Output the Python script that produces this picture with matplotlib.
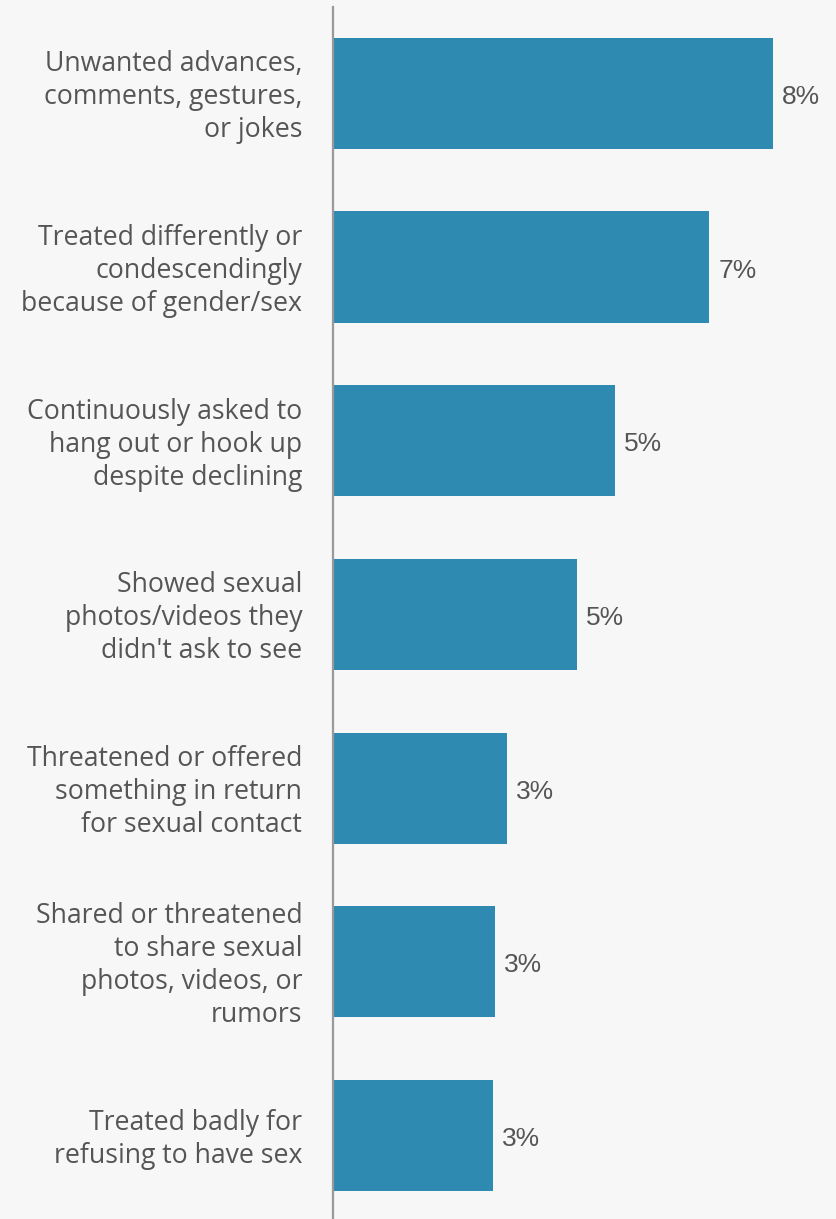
import matplotlib.pyplot as plt

categories = [
    "Unwanted advances,\ncomments, gestures,\nor jokes",
    "Treated differently or\ncondescendingly\nbecause of gender/sex",
    "Continuously asked to\nhang out or hook up\ndespite declining",
    "Showed sexual\nphotos/videos they\ndidn't ask to see",
    "Threatened or offered\nsomething in return\nfor sexual contact",
    "Shared or threatened\nto share sexual\nphotos, videos, or\nrumors",
    "Treated badly for\nrefusing to have sex",
]
values = [8.30, 7.09, 5.32, 4.60, 3.28, 3.06, 3.02]
value_labels = ["8%", "7%", "5%", "5%", "3%", "3%", "3%"]

BG = "#f7f7f7"
BAR = "#2e8ab0"
TEXT = "#555555"

fig = plt.figure(figsize=(8.37, 12.19), dpi=100, facecolor=BG)
ax = fig.add_axes([333 / 837, 0, 1 - 333 / 837, 1212 / 1219])
ax.set_facecolor(BG)

pos = list(range(len(values)))
ax.barh(pos, values, height=0.64, color=BAR)

for y, v, lab in zip(pos, values, value_labels):
    ax.text(v + 0.17, y + 0.02, lab, va="center", ha="left", fontsize=19,
            color=TEXT, family="Liberation Sans")

for y, cat in zip(pos, categories):
    ax.text(-0.58, y + 0.022, cat, va="center", ha="right", fontsize=19.2,
            color=TEXT, family="Open Sans", linespacing=1.24)

ax.set_xlim(0, 9.5)
ax.set_ylim(len(values) - 1 + 0.48, -0.497)
ax.set_xticks([])
ax.set_yticks([])
for s in ["top", "right", "bottom"]:
    ax.spines[s].set_visible(False)
ax.spines["left"].set_color("#999999")
ax.spines["left"].set_linewidth(1.6)

fig.savefig("out.png", dpi=100, facecolor=BG)
